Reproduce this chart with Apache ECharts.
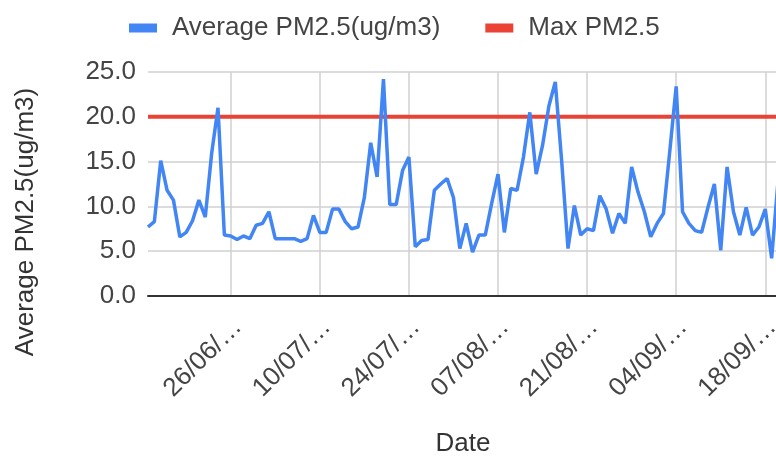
<!DOCTYPE html>
<html>
<head>
<meta charset="utf-8">
<script src="https://cdn.jsdelivr.net/npm/echarts@6/dist/echarts.min.js"></script>
<style>
  html, body { margin: 0; padding: 0; background: #fff; }
  #chart { width: 776px; height: 458px; }
</style>
</head>
<body>
<div id="chart"></div>
<script>
// daily dates, 13/06 .. 20/09
const dates = [
  '13/06/2020', '14/06/2020', '15/06/2020', '16/06/2020', '17/06/2020', '18/06/2020', '19/06/2020',
  '20/06/2020', '21/06/2020', '22/06/2020', '23/06/2020', '24/06/2020', '25/06/2020', '26/06/2020',
  '27/06/2020', '28/06/2020', '29/06/2020', '30/06/2020', '01/07/2020', '02/07/2020', '03/07/2020',
  '04/07/2020', '05/07/2020', '06/07/2020', '07/07/2020', '08/07/2020', '09/07/2020', '10/07/2020',
  '11/07/2020', '12/07/2020', '13/07/2020', '14/07/2020', '15/07/2020', '16/07/2020', '17/07/2020',
  '18/07/2020', '19/07/2020', '20/07/2020', '21/07/2020', '22/07/2020', '23/07/2020', '24/07/2020',
  '25/07/2020', '26/07/2020', '27/07/2020', '28/07/2020', '29/07/2020', '30/07/2020', '31/07/2020',
  '01/08/2020', '02/08/2020', '03/08/2020', '04/08/2020', '05/08/2020', '06/08/2020', '07/08/2020',
  '08/08/2020', '09/08/2020', '10/08/2020', '11/08/2020', '12/08/2020', '13/08/2020', '14/08/2020',
  '15/08/2020', '16/08/2020', '17/08/2020', '18/08/2020', '19/08/2020', '20/08/2020', '21/08/2020',
  '22/08/2020', '23/08/2020', '24/08/2020', '25/08/2020', '26/08/2020', '27/08/2020', '28/08/2020',
  '29/08/2020', '30/08/2020', '31/08/2020', '01/09/2020', '02/09/2020', '03/09/2020', '04/09/2020',
  '05/09/2020', '06/09/2020', '07/09/2020', '08/09/2020', '09/09/2020', '10/09/2020', '11/09/2020',
  '12/09/2020', '13/09/2020', '14/09/2020', '15/09/2020', '16/09/2020', '17/09/2020', '18/09/2020',
  '19/09/2020', '20/09/2020'
]

const avgPm = [
  7.7, 8.3, 15.1, 11.8, 10.7, 6.6, 7.1, 8.4, 10.7, 8.8,
  15.9, 21.0, 6.8, 6.7, 6.3, 6.7, 6.4, 7.9, 8.1, 9.4,
  6.4, 6.4, 6.4, 6.4, 6.1, 6.4, 9.0, 7.1, 7.1, 9.7,
  9.7, 8.3, 7.5, 7.7, 11.0, 17.1, 13.3, 24.2, 10.2, 10.2,
  14.0, 15.5, 5.5, 6.2, 6.3, 11.8, 12.5, 13.1, 11.0, 5.3,
  8.1, 4.9, 6.8, 6.8, 10.3, 13.6, 7.1, 12.0, 11.8, 15.5,
  20.5, 13.6, 16.8, 21.2, 23.9, 15.1, 5.3, 10.1, 6.8, 7.5,
  7.3, 11.2, 9.7, 7.0, 9.2, 8.1, 14.4, 11.6, 9.4, 6.6,
  8.1, 9.2, 16.2, 23.4, 9.4, 8.1, 7.3, 7.1, 9.9, 12.5,
  5.1, 14.4, 9.4, 6.8, 9.9, 6.8, 7.7, 9.7, 4.2, 12.8
]

const maxLimit = 20
const yTicks = { min: 0, max: 25, step: 5 }
// first labelled date (26/06) and spacing in days
const labelStart = 13
const labelStep = 14

function showTick (index) {
  return index >= labelStart && (index - labelStart) % labelStep === 0
}

var myChart = echarts.init(document.getElementById('chart'))
myChart.setOption({
  animation: false,
  textStyle: {
    fontFamily: 'Liberation Sans, Arial, sans-serif'
  },
  legend: {
    top: 10,
    left: 124,
    itemWidth: 28,
    itemHeight: 9,
    itemGap: 45,
    icon: 'rect',
    textStyle: {
      fontSize: 26,
      color: '#444',
      padding: [0, 0, 0, 10]
    },
    data: ['Average PM2.5(ug/m3)', 'Max PM2.5']
  },
  grid: {
    left: 148,
    top: 72,
    right: -2,
    bottom: 162,
    outerBoundsMode: 'none'
  },
  xAxis: {
    type: 'category',
    data: dates,
    boundaryGap: false,
    name: 'Date',
    nameLocation: 'middle',
    nameGap: 135,
    nameTextStyle: {
      fontSize: 26,
      color: '#333'
    },
    axisLine: {
      lineStyle: {
        color: '#333',
        width: 2
      }
    },
    axisTick: {
      show: false
    },
    axisLabel: {
      interval: function (index) { return showTick(index) },
      rotate: 45,
      margin: 20,
      verticalAlign: 'top',
      lineHeight: 20,
      fontSize: 26,
      color: '#444',
      formatter: function (value) {
        return value.slice(0, 6) + '…'
      }
    },
    splitLine: {
      show: true,
      interval: function (index) { return showTick(index) },
      lineStyle: {
        color: '#d0d0d0',
        width: 1.5
      }
    }
  },
  yAxis: {
    type: 'value',
    min: yTicks.min,
    max: yTicks.max,
    interval: yTicks.step,
    name: 'Average PM2.5(ug/m3)',
    nameLocation: 'middle',
    nameGap: 109,
    nameTextStyle: {
      fontSize: 26,
      color: '#333',
      padding: [0, 76, 0, 0]
    },
    axisLine: {
      show: false
    },
    axisTick: {
      show: false
    },
    axisLabel: {
      margin: 12,
      fontSize: 26,
      color: '#444',
      formatter: function (value) {
        return value.toFixed(1)
      }
    },
    splitLine: {
      lineStyle: {
        color: '#d0d0d0',
        width: 1.5
      }
    }
  },
  series: [
    {
      name: 'Average PM2.5(ug/m3)',
      type: 'line',
      data: avgPm,
      showSymbol: false,
      itemStyle: {
        color: '#4285f4'
      },
      lineStyle: {
        color: '#4285f4',
        width: 3.5
      },
      z: 3
    },
    {
      name: 'Max PM2.5',
      type: 'line',
      data: [[dates[0], maxLimit], [dates[dates.length - 1], maxLimit]],
      showSymbol: false,
      itemStyle: {
        color: '#ea4335'
      },
      lineStyle: {
        color: '#ea4335',
        width: 4
      },
      z: 2
    }
  ]
})
</script>
</body>
</html>
